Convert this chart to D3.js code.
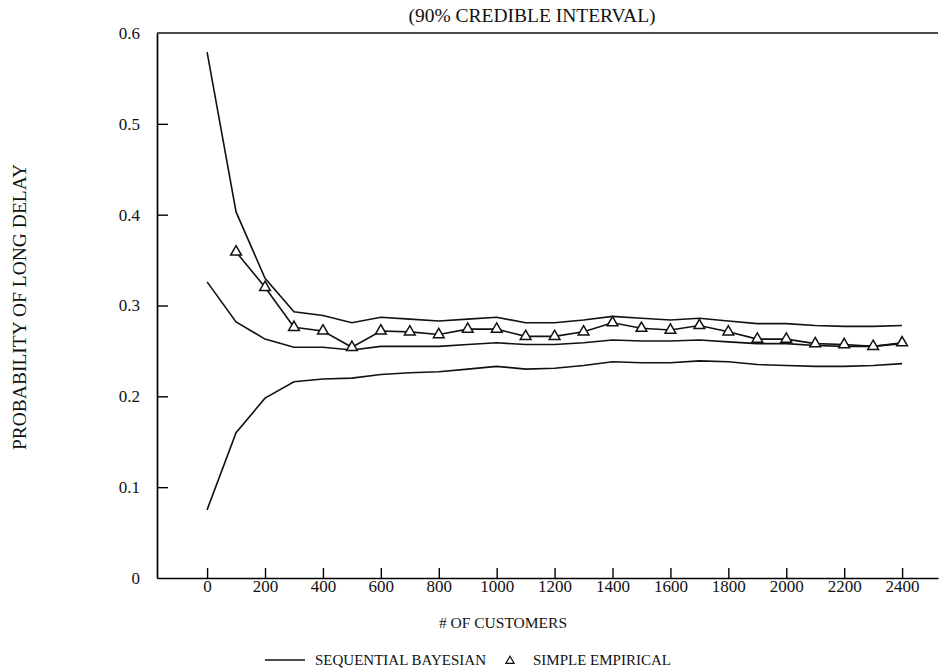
<!DOCTYPE html>
<html>
<head>
<meta charset="utf-8">
<script src="https://cdn.jsdelivr.net/npm/d3@7"></script>
<style>
  body { margin: 0; background: #fff; }
  svg text { font-family: "Times New Roman", Times, "Liberation Serif", "DejaVu Serif", serif; }
  .tick text { font-size: 17px; fill: #111; }
  .lbl { font-size: 15.5px; fill: #111; }
</style>
</head>
<body>
<div id="chart"></div>
<script>
// customers, step 100
const customers = d3.range(0, 2401, 100)
const upper_band = [0.579, 0.403, 0.330, 0.293, 0.289, 0.281, 0.287, 0.285, 0.283, 0.285, 0.287, 0.281, 0.281,
	0.284, 0.288, 0.286, 0.284, 0.286, 0.283, 0.280, 0.280, 0.278, 0.277, 0.277, 0.278]
const bayes_mean = [0.326, 0.282, 0.263, 0.254, 0.254, 0.251, 0.255, 0.255, 0.255, 0.257, 0.259, 0.257, 0.257,
	0.259, 0.262, 0.261, 0.261, 0.262, 0.260, 0.258, 0.258, 0.256, 0.255, 0.255, 0.258]
const lower_band = [0.075, 0.160, 0.198, 0.216, 0.219, 0.220, 0.224, 0.226, 0.227, 0.230, 0.233, 0.230, 0.231,
	0.234, 0.238, 0.237, 0.237, 0.239, 0.238, 0.235, 0.234, 0.233, 0.233, 0.234, 0.236]
// simple empirical starts at 100
const empirical = [0.359, 0.320, 0.276, 0.272, 0.254, 0.272, 0.271, 0.268, 0.274, 0.274, 0.266, 0.266,
	0.271, 0.281, 0.275, 0.273, 0.278, 0.271, 0.263, 0.263, 0.258, 0.257, 0.255, 0.259]
const x_ticks = d3.range(0, 2401, 200)
const y_ticks = [0, 0.1, 0.2, 0.3, 0.4, 0.5, 0.6]

const width = 943, height = 671
const x = d3.scaleLinear().domain([-173, 2524]).range([157, 938])
const y = d3.scaleLinear().domain([0, 0.6]).range([578, 33])

const svg = d3.select('#chart').append('svg')
	.attr('width', width).attr('height', height)

// x axis, ticks pointing up
svg.append('g')
	.attr('transform', 'translate(0,' + y(0) + ')')
	.call(d3.axisBottom(x).tickValues(x_ticks).tickSizeInner(-10).tickSizeOuter(0).tickPadding(2).tickFormat(d3.format('d')))
	.attr('font-family', null).attr('font-size', null)
	.call(g => g.select('.domain').attr('stroke-width', 1.7))
	.call(g => g.selectAll('.tick line').attr('stroke-width', 1.4))

// y axis, ticks pointing right
svg.append('g')
	.attr('transform', 'translate(' + x.range()[0] + ',0)')
	.call(d3.axisLeft(y).tickValues(y_ticks).tickSizeInner(-11).tickSizeOuter(0).tickPadding(17)
		.tickFormat(d => d === 0 ? '0' : d3.format('.1f')(d)))
	.attr('font-family', null).attr('font-size', null)
	.call(g => g.select('.domain').attr('stroke-width', 1.7))
	.call(g => g.selectAll('.tick line').attr('stroke-width', 1.4))
	.call(g => g.selectAll('.tick').filter(d => d === 0 || d === 0.6).select('line').remove())

// top frame line
svg.append('line')
	.attr('x1', x.range()[0]).attr('x2', x.range()[1])
	.attr('y1', y(0.6)).attr('y2', y(0.6))
	.attr('stroke', '#111').attr('stroke-width', 1.7)

const line = d3.line().x(d => x(d[0])).y(d => y(d[1]))
const series = [upper_band, bayes_mean, lower_band]
svg.selectAll('path.bayes')
	.data(series)
	.enter().append('path')
	.attr('class', 'bayes')
	.attr('fill', 'none').attr('stroke', '#111').attr('stroke-width', 1.6)
	.attr('d', s => line(customers.map((c, i) => [c, s[i]])))

const emp = customers.slice(1).map((c, i) => [c, empirical[i]])
svg.append('path')
	.attr('fill', 'none').attr('stroke', '#111').attr('stroke-width', 1.6)
	.attr('d', line(emp))
const tri = d3.symbol().type(d3.symbolTriangle).size(50)
svg.selectAll('path.tri')
	.data(emp)
	.enter().append('path')
	.attr('class', 'tri')
	.attr('transform', d => 'translate(' + x(d[0]) + ',' + y(d[1]) + ')')
	.attr('d', tri())
	.attr('fill', '#fff').attr('stroke', '#111').attr('stroke-width', 1.5)

// texts
svg.append('text').attr('class', 'lbl')
	.attr('x', 532).attr('y', 22).attr('text-anchor', 'middle')
	.style('font-size', '19.5px')
	.text('(90% CREDIBLE INTERVAL)')
svg.append('text').attr('class', 'lbl')
	.attr('x', 503).attr('y', 628).attr('text-anchor', 'middle')
	.text('# OF CUSTOMERS')
svg.append('text').attr('class', 'lbl')
	.attr('transform', 'translate(26,307) rotate(-90)').attr('text-anchor', 'middle')
	.style('font-size', '19.5px')
	.text('PROBABILITY OF LONG DELAY')

// legend
const leg = svg.append('g').attr('transform', 'translate(0,660)')
leg.append('line').attr('x1', 265).attr('x2', 305).attr('y1', 0).attr('y2', 0)
	.attr('stroke', '#111').attr('stroke-width', 1.4)
leg.append('text').attr('class', 'lbl').attr('x', 315).attr('y', 5).style('font-size', '15px').text('SEQUENTIAL BAYESIAN')
leg.append('path').attr('transform', 'translate(510,1)')
	.attr('d', d3.symbol().type(d3.symbolTriangle).size(30)())
	.attr('fill', '#fff').attr('stroke', '#111').attr('stroke-width', 1.2)
leg.append('text').attr('class', 'lbl').attr('x', 533).attr('y', 5).style('font-size', '15px').text('SIMPLE EMPIRICAL')
</script>
</body>
</html>
